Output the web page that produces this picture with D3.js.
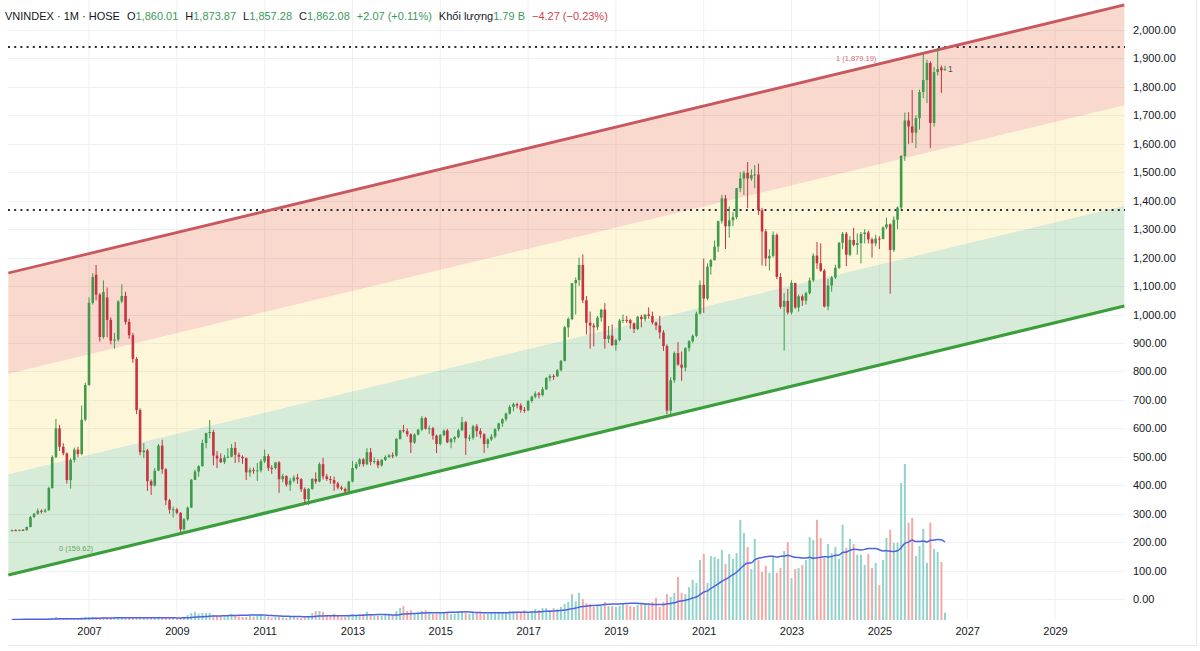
<!DOCTYPE html>
<html><head><meta charset="utf-8">
<script src="https://cdn.jsdelivr.net/npm/d3@7"></script>
<style>
body{margin:0;background:#fff;}
svg{display:block;font-family:"Liberation Sans",Arial,sans-serif;}
</style>
</head><body>
<svg id="chart" width="1200" height="651"></svg>
<script>
// ---------------- DATA (monthly, Apr 2005 .. Jul 2026) ----------------
const firstMonth = "2005-04";
const lastMonth = "2026-07";

const opens = [
 240,242,241,243,242,253,288,300,310,
 307,312,390,499,600,535,512,418,489,525,510,630,
 752,1041,1140,1070,921,1060,981,908,912,1046,1065,974,
 927,844,664,516,522,414,399,451,539,456,347,314,
 315,303,245,280,321,419,448,467,548,583,587,504,
 494,481,497,500,531,507,500,495,445,453,450,452,
 484,502,461,460,480,421,432,402,416,427,421,386,
 351,387,422,413,474,431,422,418,406,392,387,378,
 413,460,474,491,474,516,482,485,470,489,499,505,
 504,563,593,590,579,550,578,595,636,599,600,574,
 545,576,592,551,562,569,593,621,565,567,607,590,
 579,545,561,571,597,617,632,652,675,685,680,665,
 664,696,711,722,717,737,777,784,783,804,837,955,
 984,1110,1121,1174,1050,971,961,955,989,1017,914,926,
 892,910,979,981,980,969,949,992,984,1000,995,972,
 961,937,889,662,769,864,824,813,882,906,925,1003,
 1104,1056,1168,1191,1239,1328,1408,1310,1331,1342,1444,1478,
 1498,1478,1490,1492,1366,1292,1197,1206,1280,1132,1027,1048,
 1007,1111,1025,1064,1049,1075,1120,1207,1180,1154,1028,1102,
 1130,1164,1252,1284,1210,1262,1245,1251,1283,1288,1264,1250,
 1267,1265,1306,1317,1227,1333,1376,1557,1682,1661,1639,1690,
 1782,1824,1884,1673,1852,1868,1860.01
];
const highs = [
 244,245,244,246,255,292,302,318,315,
 318,395,505,633,612,548,515,495,532,535,680,760,
 1060,1145,1174,1075,1120,1095,990,935,1050,1106,1080,985,
 935,850,670,548,528,420,460,545,560,460,352,325,
 320,305,285,325,422,455,470,560,585,629,595,520,
 512,506,530,545,552,515,505,498,462,462,478,492,
 525,510,470,482,485,440,435,425,435,440,425,392,
 390,425,445,480,496,440,432,430,412,398,392,415,
 485,482,495,495,530,531,498,492,492,505,510,515,
 565,595,612,600,582,582,598,643,640,610,605,578,
 580,596,598,566,572,598,640,626,578,612,615,600,
 583,565,580,600,620,635,655,682,690,690,688,675,
 700,715,730,728,745,780,790,790,808,840,960,990,
 1110,1130,1200,1211,1065,1010,970,995,1020,1040,960,965,
 915,985,1000,995,985,972,995,999,1000,1025,1010,975,
 995,945,895,780,870,903,870,885,910,930,1010,1120,
 1197,1180,1195,1260,1330,1420,1420,1380,1360,1445,1500,1505,
 1536,1510,1525,1530,1375,1300,1230,1292,1285,1145,1075,1090,
 1120,1111,1070,1070,1080,1130,1215,1255,1250,1160,1125,1135,
 1175,1255,1290,1290,1275,1305,1285,1290,1300,1295,1270,1280,
 1275,1310,1340,1320,1345,1380,1560,1710,1711,1789,1700,1790,
 1919,1895,1890,1870,1937,1875,1873.87
];
const lows = [
 238,239,238,240,240,252,285,296,300,
 303,310,388,495,520,505,405,388,480,498,505,625,
 750,1035,1050,905,915,920,895,880,905,1040,965,915,
 830,650,505,495,380,366,395,450,440,330,300,286,
 298,235,240,275,320,418,430,465,530,565,470,460,
 478,475,495,498,478,480,475,418,430,440,415,445,
 478,450,440,455,373,410,395,380,410,405,376,337,
 330,384,405,410,420,415,405,380,385,382,372,373,
 410,455,465,465,470,470,475,460,465,485,495,495,
 500,560,585,570,513,545,575,590,595,580,560,513,
 540,572,548,530,550,565,590,506,555,560,570,565,
 513,530,555,565,590,605,625,648,660,670,655,655,
 660,690,705,705,712,735,765,770,780,800,835,920,
 980,1000,1100,1040,930,880,888,945,975,880,900,890,
 873,905,970,970,950,935,945,955,975,985,965,945,
 915,872,650,650,760,820,767,800,870,900,920,1000,
 1006,1050,1140,1190,1220,1320,1230,1270,1310,1335,1430,1420,
 1374,1470,1444,1350,1172,1170,1155,1200,1125,1020,873,1000,
 1000,1020,1010,1030,1035,1070,1115,1160,1150,1025,1015,1080,
 1125,1160,1230,1170,1205,1240,1210,1180,1250,1250,1200,1240,
 1230,1265,1300,1073,1220,1300,1370,1540,1600,1603,1585,1650,
 1760,1743,1585,1660,1840,1779,1857.28
];
const closes = [
 242,241,243,242,253,288,300,310,307,
 312,390,499,600,535,512,418,489,525,510,630,752,
 1041,1132,1070,921,1079,981,908,912,1046,1065,974,927,
 844,664,516,522,414,399,451,539,456,347,314,315,
 303,245,280,321,419,448,467,548,583,587,504,494,
 481,497,500,531,507,500,495,445,453,450,452,484,
 502,461,460,480,421,432,402,416,427,421,386,351,
 387,422,413,474,431,422,418,406,392,387,378,413,
 460,474,491,474,516,482,485,470,489,499,505,504,
 563,593,590,579,550,578,595,636,599,600,574,545,
 576,592,551,562,569,593,621,565,567,607,590,579,
 545,561,571,597,617,632,652,675,685,680,665,664,
 696,711,722,717,737,777,784,783,804,837,955,984,
 1110,1121,1174,1050,971,961,955,989,1017,914,926,892,
 910,979,981,980,969,949,992,984,1000,995,972,961,
 937,889,662,769,864,824,813,882,906,925,1003,1104,
 1056,1168,1191,1239,1328,1408,1310,1331,1342,1444,1478,1498,
 1478,1490,1492,1366,1292,1197,1206,1280,1132,1027,1048,1007,
 1111,1025,1064,1049,1075,1120,1207,1180,1154,1028,1102,1130,
 1164,1252,1284,1210,1262,1245,1251,1283,1288,1264,1250,1267,
 1265,1306,1317,1227,1333,1376,1557,1682,1661,1639,1690,1782,
 1824,1884,1673,1852,1863,1858,1862.08
];
// volume, billions of shares
const volumes = [
 0.15,0.15,0.15,0.17,0.2,0.22,0.2,0.2,0.22,
 0.25,0.37,0.5,0.75,0.5,0.37,0.37,0.37,0.37,0.4,0.6,0.75,
 0.75,0.75,0.6,0.5,0.6,0.6,0.5,0.5,0.6,0.6,0.5,0.5,
 0.5,0.45,0.5,0.5,0.45,0.45,0.5,0.75,0.6,0.5,0.45,0.5,
 0.37,0.5,0.75,1.2,1.7,2.0,1.5,1.7,1.7,1.7,1.2,1.0,
 1.0,0.85,1.2,1.5,1.0,0.85,0.75,0.75,1.0,0.85,1.0,1.2,
 1.0,0.75,0.6,0.75,0.75,0.6,0.5,0.75,0.75,0.6,0.5,0.6,
 0.75,1.7,2.2,2.2,2.0,1.2,1.0,1.5,1.0,0.75,0.75,1.0,
 1.5,1.0,1.2,1.5,2.0,1.2,1.0,1.0,1.0,1.2,1.5,1.2,
 2.2,2.9,3.4,2.2,2.4,1.5,1.5,2.2,2.4,2.0,1.5,1.5,
 1.5,1.7,2.0,1.5,1.5,2.0,2.2,1.7,1.5,1.7,1.7,2.0,
 1.5,1.5,2.0,2.0,2.0,2.0,2.0,2.2,2.2,2.0,2.0,2.4,
 1.7,2.2,2.7,2.4,2.9,2.9,2.4,2.9,2.7,3.2,3.9,4.4,
 6.3,4.6,6.6,5.1,4.1,3.9,3.2,3.7,3.4,4.4,3.4,3.4,
 3.2,3.4,3.9,3.7,3.4,3.2,3.7,4.1,4.1,3.9,4.4,5.4,
 3.2,4.4,6.3,5.6,6.6,10.5,6.6,6.3,8.0,9.8,9.0,14.6,
 16.1,9.0,15.6,15.4,14.9,17.1,13.7,16.1,14.9,16.3,24.4,21.2,
 17.8,12.4,19.8,14.6,11.7,13.2,11.5,15.4,11.5,12.7,16.8,19.0,
 10.2,12.4,12.7,13.4,14.6,20.2,19.5,24.4,20.0,15.1,18.5,16.3,
 17.8,14.9,23.2,17.6,19.8,18.5,15.9,15.9,13.4,16.1,12.7,13.9,
 8.5,14.6,20.0,22.0,18.8,18.8,33.4,38.0,23.7,24.9,15.6,18.0,
 22.2,13.9,23.7,17.3,16.6,14.1,1.79
];
const volumeMaLength = 20;

// channel (fib-style parallel channel), end points of level 0 and level 1
const channelDates = ["2005-03", "2030-08"];
const channelLevel0 = [84.4, 1030];
const channelLevel1 = [1145.9, 2088];
const channelFractions = [0, 1/3, 2/3, 1];
const channelLabels = [
  {text: "0 (159.62)", date: "2007-03", price: 159.62},
  {text: "1 (1,879.19)", date: "2025-01", price: 1879.19}
];
// horizontal dotted lines
const horizontalLevels = [1940, 1367];

const priceTicks = d3.range(0, 2001, 100);
const yearTicks = [2007, 2009, 2011, 2013, 2015, 2017, 2019, 2021, 2023, 2025, 2027, 2029];

const header = {
  symbol: "VNINDEX · 1M · HOSE",
  o: "1,860.01", h: "1,873.87", l: "1,857.28", c: "1,862.08",
  chg: "+2.07 (+0.11%)",
  volLabel: "Khối lượng", vol: "1.79 B",
  volChg: "\u22124.27 (\u22120.23%)"
};

// ---------------- BUILD ----------------
const parseM = d3.timeParse("%Y-%m");
const months = d3.timeMonth.range(parseM(firstMonth), d3.timeMonth.offset(parseM(lastMonth), 1));
const data = months.map((d, i) => ({date: d, o: opens[i], h: highs[i], l: lows[i], c: closes[i], v: volumes[i]}));
data.forEach((d, i) => {
  const s = data.slice(Math.max(0, i - volumeMaLength + 1), i + 1);
  d.ma = d3.mean(s, e => e.v);
});

const svg = d3.select("#chart");
const W = 1200, H = 651;
const plot = {left: 8, right: 1125, top: 0, bottom: 620};

const x = d3.scaleTime().domain([new Date(2007, 0, 1), new Date(2029, 0, 1)]).range([89, 1055]);
const y = d3.scaleLinear().domain([0, 2000]).range([599, 30]);
const yv = d3.scaleLinear().domain([0, 38]).range([620, 464]);

svg.append("rect").attr("width", W).attr("height", H).attr("fill", "#fff");

svg.append("defs").append("clipPath").attr("id", "clip")
  .append("rect").attr("x", plot.left).attr("y", plot.top)
  .attr("width", plot.right - plot.left).attr("height", plot.bottom - plot.top);

const g = svg.append("g").attr("clip-path", "url(#clip)");

// grid
g.selectAll(".vg").data(yearTicks).join("line")
  .attr("x1", d => x(new Date(d, 0, 1))).attr("x2", d => x(new Date(d, 0, 1)))
  .attr("y1", plot.top).attr("y2", plot.bottom)
  .attr("stroke", "#edf0f5").attr("stroke-width", 1);
g.selectAll(".hg").data(priceTicks).join("line")
  .attr("x1", plot.left).attr("x2", plot.right)
  .attr("y1", d => Math.round(y(d)) + 0.5).attr("y2", d => Math.round(y(d)) + 0.5)
  .attr("stroke", "#edf0f5").attr("stroke-width", 1);

// channel
const cd = channelDates.map(parseM);
const lvl = (f, k) => channelLevel0[k] + f * (channelLevel1[k] - channelLevel0[k]);
const bandFills = ["rgba(99,179,107,0.26)", "rgba(247,219,103,0.25)", "rgba(232,100,60,0.25)"];
for (let b = 0; b < 3; b++) {
  const fa = channelFractions[b], fb = channelFractions[b + 1];
  const pts = [[x(cd[0]), y(lvl(fa, 0))], [x(cd[1]), y(lvl(fa, 1))], [x(cd[1]), y(lvl(fb, 1))], [x(cd[0]), y(lvl(fb, 0))]];
  g.append("path").attr("d", "M" + pts.join("L") + "Z").attr("fill", bandFills[b]);
}

// dotted horizontal lines
g.selectAll(".hl").data(horizontalLevels).join("line")
  .attr("x1", plot.left).attr("x2", plot.right)
  .attr("y1", d => y(d)).attr("y2", d => y(d))
  .attr("stroke", "#2a2e39").attr("stroke-width", 2).attr("stroke-dasharray", "2,4.2");

// channel lines
g.append("line").attr("x1", x(cd[0])).attr("x2", x(cd[1]))
  .attr("y1", y(channelLevel1[0])).attr("y2", y(channelLevel1[1]))
  .attr("stroke", "#c9575f").attr("stroke-width", 2.8);
g.append("line").attr("x1", x(cd[0])).attr("x2", x(cd[1]))
  .attr("y1", y(channelLevel0[0])).attr("y2", y(channelLevel0[1]))
  .attr("stroke", "#3a9e3a").attr("stroke-width", 3.2);

// channel labels
const lineAt = (date, k01) => {
  const t = (x(date) - x(cd[0])) / (x(cd[1]) - x(cd[0]));
  const arr = k01 === 0 ? channelLevel0 : channelLevel1;
  return arr[0] + t * (arr[1] - arr[0]);
};
g.selectAll(".cl").data(channelLabels).join("text")
  .attr("x", d => x(parseM(d.date)) - 3)
  .attr("y", (d, i) => y(lineAt(parseM(d.date), i)) - 3)
  .attr("text-anchor", "end").attr("font-size", 7.5)
  .attr("fill", (d, i) => i === 0 ? "#5fa85f" : "#d06a6a")
  .text(d => d.text);

// volume
const up = d => d.c >= d.o;
g.selectAll(".vb").data(data).join("rect")
  .attr("x", d => x(d.date) - 1).attr("width", 2)
  .attr("y", d => yv(d.v)).attr("height", d => Math.max(0.5, yv(0) - yv(d.v)))
  .attr("fill", d => up(d) ? "#93d3cb" : "#f6a8a6");
g.append("path").datum(data)
  .attr("d", d3.line().x(d => x(d.date)).y(d => yv(d.ma)).curve(d3.curveMonotoneX))
  .attr("fill", "none").attr("stroke", "#4b63df").attr("stroke-width", 1.5);

// candles
const upC = "#3d9b4b", dnC = "#c83340";
g.selectAll(".wk").data(data).join("line")
  .attr("x1", d => x(d.date)).attr("x2", d => x(d.date))
  .attr("y1", d => y(d.h)).attr("y2", d => y(d.l))
  .attr("stroke", d => up(d) ? upC : dnC).attr("stroke-width", 1);
g.selectAll(".bd").data(data).join("rect")
  .attr("x", d => x(d.date) - 1.3).attr("width", 2.6)
  .attr("y", d => y(Math.max(d.o, d.c)))
  .attr("height", d => Math.max(1, Math.abs(y(d.o) - y(d.c))))
  .attr("fill", d => up(d) ? upC : dnC);

// marker next to the last bar
const last = data[data.length - 1];
g.append("text").attr("x", x(last.date) + 3).attr("y", y(last.c) + 3)
  .attr("font-size", 8.5).attr("fill", "#50535e").text("1");

// axes
const yAxis = d3.axisRight(y).tickValues(priceTicks).tickFormat(d3.format(",.2f")).tickSize(0).tickPadding(0);
const ya = svg.append("g").attr("transform", "translate(1133,0)").call(yAxis);
ya.select(".domain").remove();
ya.selectAll("text").attr("font-size", 11).attr("fill", "#131722").attr("font-family", "Liberation Sans, Arial, sans-serif");

const xAxis = d3.axisBottom(x).tickValues(yearTicks.map(d => new Date(d, 0, 1))).tickFormat(d3.timeFormat("%Y")).tickSize(0).tickPadding(0);
const xa = svg.append("g").attr("transform", "translate(0,627)").call(xAxis);
xa.select(".domain").remove();
xa.selectAll("text").attr("font-size", 11).attr("fill", "#131722").attr("font-family", "Liberation Sans, Arial, sans-serif");

// frame
svg.append("line").attr("x1", 8).attr("x2", 1196).attr("y1", 645.5).attr("y2", 645.5).attr("stroke", "#e6e8ee");
svg.append("line").attr("x1", 1196.5).attr("x2", 1196.5).attr("y1", 0).attr("y2", 646).attr("stroke", "#e6e8ee");

// header
const green = "#3b9a57", red = "#d0434b", dark = "#131722";
const t = svg.append("text").attr("x", 5).attr("y", 20).attr("font-size", 11).attr("fill", dark);
const seg = (s, c, dx) => t.append("tspan").attr("fill", c).attr("dx", dx || 0).text(s);
seg(header.symbol, dark);
seg("O", dark, 7); seg(header.o, green);
seg("H", dark, 7); seg(header.h, green);
seg("L", dark, 7); seg(header.l, green);
seg("C", dark, 7); seg(header.c, green);
seg(header.chg, green, 7);
seg(header.volLabel, dark, 7); seg(header.vol, green);
seg(header.volChg, red, 7);
</script>
</body></html>
